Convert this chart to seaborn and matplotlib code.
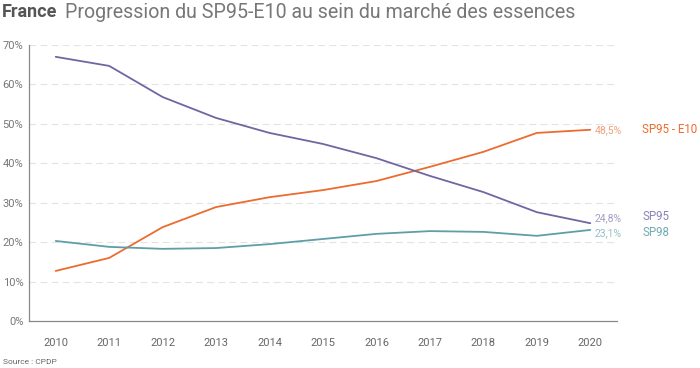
import matplotlib
matplotlib.use("Agg")
import matplotlib.pyplot as plt
import seaborn as sns
import pandas as pd
from matplotlib.ticker import FixedLocator, FuncFormatter

years = ["2010", "2011", "2012", "2013", "2014", "2015", "2016", "2017", "2018", "2019", "2020"]
sp95 = [67.0, 64.7, 56.8, 51.5, 47.7, 44.9, 41.3, 36.8, 32.7, 27.6, 24.8]
sp95_e10 = [12.7, 16.0, 23.8, 28.9, 31.4, 33.2, 35.5, 39.1, 42.9, 47.7, 48.5]
sp98 = [20.3, 18.8, 18.3, 18.5, 19.5, 20.8, 22.1, 22.8, 22.6, 21.6, 23.1]
series_names = ["SP95 - E10", "SP95", "SP98"]
colors = {"SP95 - E10": "#EC6B2D", "SP95": "#6F66A2", "SP98": "#5E9FA7"}
label_colors = {"SP95 - E10": "#F0A07A", "SP95": "#A39DC4", "SP98": "#93C0C6"}
name_colors = {"SP95 - E10": "#EC6B2D", "SP95": "#8A82B8", "SP98": "#6FAAB2"}
y_ticks = [0, 10, 20, 30, 40, 50, 60, 70]

df = pd.concat([
    pd.DataFrame({"year": years, "value": sp95_e10, "serie": "SP95 - E10"}),
    pd.DataFrame({"year": years, "value": sp95, "serie": "SP95"}),
    pd.DataFrame({"year": years, "value": sp98, "serie": "SP98"}),
])

sns.set_style("white")
plt.rcParams["font.family"] = ["Roboto", "DejaVu Sans"]

fig = plt.figure(figsize=(7, 3.68), dpi=100)
ax = fig.add_axes([29/700, 47/368, (617-29)/700, (321-45)/368])

sns.lineplot(data=df, x="year", y="value", hue="serie", palette=colors,
             hue_order=series_names, linewidth=1.3, ax=ax, legend=False, sort=False)

ax.set_xlim(-0.5, len(years) - 0.5)
ax.set_ylim(0, 70)
ax.set_xlabel("")
ax.set_ylabel("")

ax.yaxis.set_major_locator(FixedLocator(y_ticks))
ax.yaxis.set_major_formatter(FuncFormatter(lambda v, p: f"{int(v)}%"))
ax.tick_params(axis="y", length=0, labelsize=8, labelcolor="#777777", pad=4)

ax.set_xticks(range(len(years)))
ax.set_xticklabels(years)
ax.set_xticks([i - 0.5 for i in range(len(years) + 1)], minor=True)
ax.tick_params(axis="x", which="major", length=0, labelsize=8, labelcolor="#666666", pad=12)
ax.tick_params(axis="x", which="minor", direction="in", length=4, color="#777777", width=0.8)

for v in y_ticks[1:]:
    ax.axhline(v, color="#E3E3E3", linewidth=0.8, linestyle=(0, (6, 4)), zorder=0)

for s in ["top", "right"]:
    ax.spines[s].set_visible(False)
ax.spines["left"].set_color("#888888")
ax.spines["bottom"].set_color("#888888")
ax.spines["left"].set_linewidth(0.9)
ax.spines["bottom"].set_linewidth(0.9)

last = {"SP95 - E10": sp95_e10[-1], "SP95": sp95[-1], "SP98": sp98[-1]}
name_y = {"SP95 - E10": sp95_e10[-1], "SP95": sp95[-1] + 1.7, "SP98": sp98[-1] - 0.7}
val_y = {"SP95 - E10": sp95_e10[-1], "SP95": sp95[-1] + 1.3, "SP98": sp98[-1] - 0.8}
for s in series_names:
    ax.text(10.08, val_y[s], f"{last[s]:.1f}%".replace(".", ","), color=label_colors[s],
            fontsize=7.5, va="center", ha="left", clip_on=False)
    ax.text(10.97, name_y[s], s, color=name_colors[s],
            fontsize=8.3, va="center", ha="left", clip_on=False)

fig.text(2/700, 1 - 12/368, "France", fontsize=13, fontweight="bold", color="#555555",
         va="center", ha="left")
fig.text(65/700, 1 - 12/368, "Progression du SP95-E10 au sein du marché des essences",
         fontsize=14.1, color="#777777", va="center", ha="left")
fig.text(3/700, 1 - 362/368, "Source : CPDP", fontsize=6, color="#666666", va="center", ha="left")

fig.savefig("out.png", dpi=100)
